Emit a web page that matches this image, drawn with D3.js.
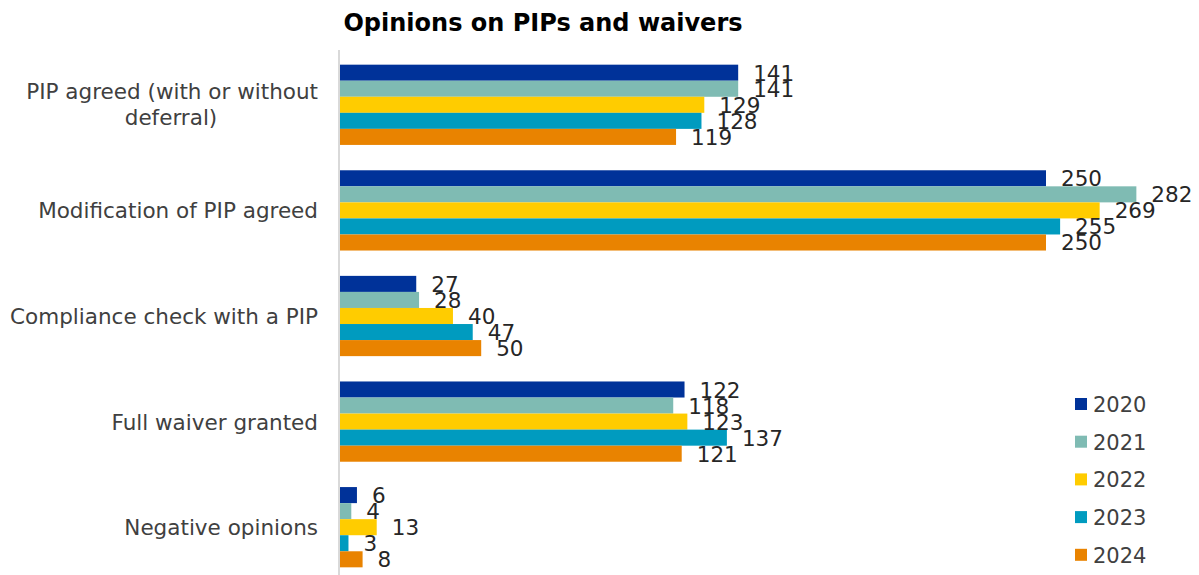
<!DOCTYPE html>
<html>
<head>
<meta charset="utf-8">
<script src="https://cdn.jsdelivr.net/npm/d3@7"></script>
<style>
  body { margin: 0; background: #fff; }
  text { font-family: Verdana, "DejaVu Sans", sans-serif; }
</style>
</head>
<body>
<svg id="chart" width="1199" height="575"></svg>
<script>
// data
var categories = [
    'PIP agreed (with or without deferral)',
    'Modification of PIP agreed',
    'Compliance check with a PIP',
    'Full waiver granted',
    'Negative opinions'
];
var years = ['2020', '2021', '2022', '2023', '2024'];
var v2020 = [141, 250, 27, 122, 6];
var v2021 = [141, 282, 28, 118, 4];
var v2022 = [129, 269, 40, 123, 13];
var v2023 = [128, 255, 47, 137, 3];
var v2024 = [119, 250, 50, 121, 8];
var seriesValues = [v2020, v2021, v2022, v2023, v2024];
var colors = ['#003299', '#7fbbb3', '#ffcc00', '#009bbf', '#e98300'];

var svg = d3.select('#chart');
var plotLeft = 340, plotTop = 52, plotBottom = 580;

var x = d3.scaleLinear().domain([0, 250]).range([plotLeft, 1046]);
var y = d3.scaleBand().domain(categories).range([plotTop, plotBottom]).paddingInner(0.24).paddingOuter(0.12);
var yInner = d3.scaleBand().domain(years).range([0, y.bandwidth()]);

// title
svg.append('text')
    .attr('x', 543).attr('y', 31)
    .attr('text-anchor', 'middle')
    .style('font-size', '24px').style('font-weight', 'bold').style('fill', '#000')
    .text('Opinions on PIPs and waivers');

// axis line
svg.append('line')
    .attr('x1', 339).attr('x2', 339)
    .attr('y1', 50).attr('y2', 575)
    .style('stroke', '#d9d9d9').style('stroke-width', 2);

// category labels
var catLabels = svg.selectAll('text.cat')
    .data(categories)
    .enter().append('text')
        .attr('class', 'cat')
        .style('font-size', '21.5px')
        .style('fill', '#404040');

catLabels.each(function(d) {
    var el = d3.select(this);
    var cy = y(d) + y.bandwidth() / 2;
    if (d.indexOf('deferral') > -1) {
        el.append('tspan').attr('x', 318).attr('y', cy - 6)
            .attr('text-anchor', 'end').text('PIP agreed (with or without');
        el.append('tspan').attr('x', 171).attr('y', cy + 20)
            .attr('text-anchor', 'middle').text('deferral)');
    } else {
        el.attr('x', 318).attr('y', cy + 8).attr('text-anchor', 'end').text(d);
    }
});

// bars
var groups = svg.selectAll('g.group')
    .data(categories)
    .enter().append('g')
        .attr('class', 'group')
        .attr('transform', d => 'translate(0,' + y(d) + ')');

groups.selectAll('rect')
    .data((d, ci) => years.map((yr, si) => ({ year: yr, value: seriesValues[si][ci], color: colors[si] })))
    .enter().append('rect')
        .attr('x', x(0))
        .attr('y', d => yInner(d.year))
        .attr('width', d => x(d.value) - x(0))
        .attr('height', yInner.bandwidth())
        .attr('fill', d => d.color);

groups.selectAll('text.val')
    .data((d, ci) => years.map((yr, si) => ({ year: yr, value: seriesValues[si][ci] })))
    .enter().append('text')
        .attr('class', 'val')
        .attr('x', d => x(d.value) + 15)
        .attr('y', d => yInner(d.year) + yInner.bandwidth() / 2 + 8)
        .style('font-size', '21.5px')
        .style('fill', '#262626')
        .text(d => d.value);

// legend
var legend = svg.selectAll('g.legend')
    .data(years)
    .enter().append('g')
        .attr('class', 'legend')
        .attr('transform', (d, i) => 'translate(1075,' + (404 + i * 37.7) + ')');

legend.append('rect')
    .attr('x', 0).attr('y', -6)
    .attr('width', 12).attr('height', 12)
    .attr('fill', (d, i) => colors[i]);

legend.append('text')
    .attr('x', 18).attr('y', 8)
    .style('font-size', '21px')
    .style('fill', '#404040')
    .text(d => d);
</script>
</body>
</html>
